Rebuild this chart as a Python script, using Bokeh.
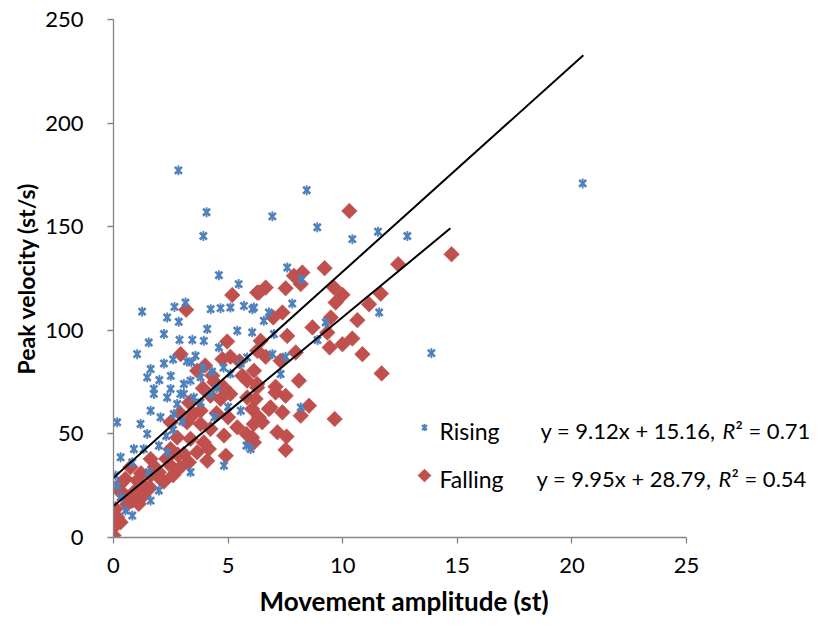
from bokeh.plotting import figure
from bokeh.models import Range1d, Label, FixedTicker, Title
from bokeh.embed import file_html
from bokeh.resources import INLINE
import math

# Rising movements: amplitude (st) and peak velocity (st/s)
rising_x = [2.83, 4.06, 3.92, 4.6, 5.46, 8.43, 6.93, 8.89, 10.42, 11.54, 12.82, 7.58, 20.47, 13.87,
            11.59, 9.26, 8.9, 8.2, 7.8, 6.78, 6.56, 6.13, 7.0, 6.93, 7.51, 7.29, 8.17,
            1.25, 2.66, 3.14, 2.34, 2.85, 4.24, 4.67, 5.1, 5.69, 6.06, 4.09, 5.4, 2.2, 2.88, 3.44,
            3.94, 1.54, 1.03, 3.58, 4.6, 1.62, 1.47, 1.76, 2.49, 3.07, 3.36, 3.8, 2.92, 4.24,
            3.4, 3.9, 5.55, 5.83, 6.05,
            0.16, 1.18, 5.8, 4.82, 3.36, 0.82, 5.55, 1.76, 2.34, 3.07, 2.78, 1.62, 2.05, 2.63,
            1.47, 0.89, 1.32, 1.98, 2.34, 0.31, 0.82, 1.54, 0.09, 0.16, 0.31, 0.52, 1.62, 1.98,
            3.5, 3.8, 5.98,
            4.3, 4.8, 5.1, 4.5, 5.0, 4.4, 3.2, 2.6, 2.2, 2.5, 2.0, 2.3, 2.6, 3.0]
rising_y = [177.2, 157.0, 145.5, 126.6, 122.3, 167.6, 155.0, 149.7, 144.0, 147.6, 145.5, 130.3, 170.9, 89.0,
            108.6, 103.8, 95.3, 124.6, 112.9, 108.6, 104.6, 111.0, 98.2, 88.5, 87.2, 78.9, 62.8,
            109.0, 111.3, 113.4, 106.2, 104.1, 110.2, 110.7, 111.0, 111.8, 110.2, 100.6, 99.8, 98.2, 95.4, 95.4,
            94.9, 94.1, 88.5, 87.7, 91.7, 81.3, 77.3, 71.7, 71.7, 74.1, 75.7, 77.3, 69.3, 69.3,
            84.5, 82.0, 83.9, 86.9, 99.0,
            55.6, 54.8, 44.3, 34.7, 31.5, 10.6, 61.2, 69.3, 67.6, 69.3, 64.4, 61.2, 58.0, 59.6,
            50.0, 42.7, 42.7, 44.3, 41.1, 38.7, 36.3, 31.5, 29.9, 25.1, 19.4, 13.0, 17.8, 22.7,
            67.6, 65.2, 42.7,
            80.0, 82.0, 79.0, 72.0, 63.0, 58.0, 85.0, 86.0, 84.0, 78.0, 76.0, 49.0, 52.0, 56.0]

# Falling movements: amplitude (st) and peak velocity (st/s)
falling_x = [0.0, 0.01, 0.31, 0.16, 0.09, 1.1, 0.82, 0.45, 0.23, 0.96, 2.05, 1.61, 1.98, 2.49, 2.92,
             3.29, 4.09, 4.9, 6.05, 5.8, 1.62, 4.23, 4.67, 5.1, 5.83, 6.05, 3.8, 3.5, 3.21, 3.8,
             2.49, 4.23, 4.82, 5.4, 2.78, 3.36, 3.94, 4.16, 3.65, 3.07, 2.49, 0.74, 0.52, 1.03,
             1.32, 0.31,
             4.82, 5.83, 6.13, 6.2, 6.34, 6.12, 6.49, 6.85, 6.05, 7.07,
             1.3, 1.6, 2.2, 2.6, 1.8, 2.3, 2.8, 1.2, 0.6, 4.5, 5.0, 4.4, 3.9, 3.3, 2.9, 5.5, 4.0,
             5.18, 6.27, 3.17, 4.96, 5.1, 4.75, 2.93, 3.65, 4.31, 5.62, 6.64, 6.35, 7.51, 7.87, 8.17,
             8.24, 9.62, 9.99, 9.69, 11.66, 11.15, 7.37, 6.97, 9.48, 10.64, 8.68, 9.33, 10.42, 9.99,
             9.43, 10.86, 11.7, 6.42, 7.58, 6.64, 6.27, 7.95, 7.29, 8.09, 7.07, 6.27, 7.51, 8.53, 8.17,
             9.65, 7.37, 6.78, 7.15, 7.55, 7.51, 6.13, 10.29, 9.21, 12.42, 14.75, 6.27]
falling_y = [1.0, 5.0, 7.4, 9.8, 13.8, 16.2, 17.8, 21.0, 22.7, 22.7, 28.3, 29.9, 31.5, 34.7, 33.9,
             36.3, 37.0, 39.5, 46.0, 50.0, 37.9, 68.4, 66.9, 69.3, 67.6, 62.0, 61.2, 59.6, 55.6, 54.8,
             55.6, 52.4, 49.2, 53.2, 48.3, 47.6, 45.9, 42.7, 41.1, 40.3, 42.7, 33.9, 28.3, 27.5,
             25.1, 25.9,
             72.4, 75.7, 80.5, 66.9, 58.0, 54.8, 55.6, 62.8, 48.3, 70.0,
             20.0, 24.0, 27.0, 30.0, 34.0, 38.0, 40.0, 31.0, 16.0, 60.0, 58.0, 75.0, 72.0, 65.0, 60.0, 85.0, 83.0,
             117.0, 118.2, 109.9, 94.6, 87.2, 86.1, 88.5, 80.5, 78.1, 78.1, 120.6, 118.2, 120.3, 126.3, 122.3,
             127.9, 120.6, 117.1, 113.4, 117.7, 112.6, 108.6, 106.2, 106.2, 104.9, 101.4, 98.9, 96.0, 93.3,
             91.7, 88.5, 79.2, 94.9, 97.3, 87.2, 90.1, 89.3, 85.3, 75.7, 72.8, 72.4, 68.4, 63.6, 58.8,
             57.2, 60.4, 62.0, 50.8, 48.7, 42.3, 45.9, 157.6, 130.0, 131.9, 136.7, 74.1]

# Linear fits as printed on the chart; each drawn over the span of its data
fit_a = (9.95, 28.79, 0.0, 20.5)
fit_b = (9.12, 15.16, 0.0, 14.7)

x_ticks = [0, 5, 10, 15, 20, 25]
y_ticks = [0, 50, 100, 150, 200, 250]

BLUE = "#4F81BD"
RED = "#C0504D"
AXIS = "#868686"
FONT = "Lato"
W, H = 838, 632

# Frame geometry (pixels): the frame runs to the right edge so the legend text
# can sit past x = 25; the visible x axis is bounded to 0..25.
LEFT, TOP, BOTTOM = 113, 19, 537
PX_PER_X = (686 - LEFT) / 25.0
PX_PER_Y = (BOTTOM - TOP) / 250.0
X_END = (W - LEFT) / PX_PER_X

def dx(px):
    return (px - LEFT) / PX_PER_X

def dy(py):
    return (BOTTOM - py) / PX_PER_Y

p = figure(width=W, height=H, output_backend="svg", toolbar_location=None,
           x_range=Range1d(0, X_END), y_range=Range1d(0, 250),
           min_border_left=LEFT, min_border_right=0, min_border_top=TOP,
           min_border_bottom=H - BOTTOM)
p.outline_line_color = None
p.xgrid.visible = False
p.ygrid.visible = False
p.background_fill_color = "white"
p.border_fill_color = "white"

for ax in (p.xaxis[0], p.yaxis[0]):
    ax.axis_line_color = AXIS
    ax.axis_line_width = 1.3
    ax.major_tick_line_color = AXIS
    ax.major_tick_line_width = 1.3
    ax.major_tick_in = 0
    ax.major_tick_out = 6
    ax.minor_tick_line_color = None
    ax.major_label_text_font = FONT
    ax.major_label_text_font_size = "22px"
    ax.major_label_text_color = "black"
    ax.axis_label_text_font = FONT
    ax.axis_label_text_font_style = "bold"
    ax.axis_label_text_color = "black"

p.xaxis.bounds = (0, 25)
p.xaxis.ticker = FixedTicker(ticks=x_ticks)
p.yaxis.ticker = FixedTicker(ticks=y_ticks)
p.yaxis.axis_label = "Peak velocity (st/s)"
p.yaxis.axis_label_text_font_size = "23px"
p.xaxis.major_label_standoff = 14
p.yaxis.major_label_standoff = 24
p.yaxis.axis_label_standoff = 2

# x title sits under the 0..25 span, so it is placed as a left-aligned title
p.add_layout(Title(text="Movement amplitude (st)", align="left", offset=146,
                   text_font=FONT, text_font_style="bold", text_font_size="26px",
                   text_color="black", standoff=14), "below")

# Falling: red diamonds
p.scatter(falling_x, falling_y, marker="square", angle=math.pi / 4, size=11,
          fill_color=RED, line_color=RED, line_width=0.6)

# Rising: blue star markers (x with a vertical stroke)
p.scatter(rising_x, rising_y, marker="x", size=10, line_color=BLUE, line_width=2.6)
p.scatter(rising_x, rising_y, marker="dash", angle=math.pi / 2, size=10, line_color=BLUE, line_width=1.8)

# Trend lines
for slope, icpt, x0, x1 in (fit_a, fit_b):
    p.line([x0, x1], [icpt + slope * x0, icpt + slope * x1], line_color="black", line_width=2)

# Legend entries and equations
def lbl(px, py, text, size="22px", **kw):
    p.add_layout(Label(x=dx(px), y=dy(py), text=text, text_font=FONT, text_font_size=size,
                       text_baseline="middle", text_color="black", **kw))

lbl(439, 430, "Rising", size="23px")
lbl(439, 478, "Falling", size="23px")
lbl(540, 430, "y = 9.12x + 15.16,")
lbl(722, 430, "R", text_font_style="italic")
lbl(735, 430, "\u00b2 = 0.71")
lbl(536, 478, "y = 9.95x + 28.79,")
lbl(718, 478, "R", text_font_style="italic")
lbl(731, 478, "\u00b2 = 0.54")

p.scatter(x=[dx(424)], y=[dy(427)], marker="x", size=7, line_color=BLUE, line_width=2.2)
p.scatter(x=[dx(424)], y=[dy(427)], marker="dash", angle=math.pi / 2, size=7, line_color=BLUE, line_width=1.5)
p.scatter(x=[dx(424)], y=[dy(475)], marker="square", angle=math.pi / 4,
          size=9, fill_color=RED, line_color=RED)

open("out.html", "w").write(file_html(p, INLINE))
